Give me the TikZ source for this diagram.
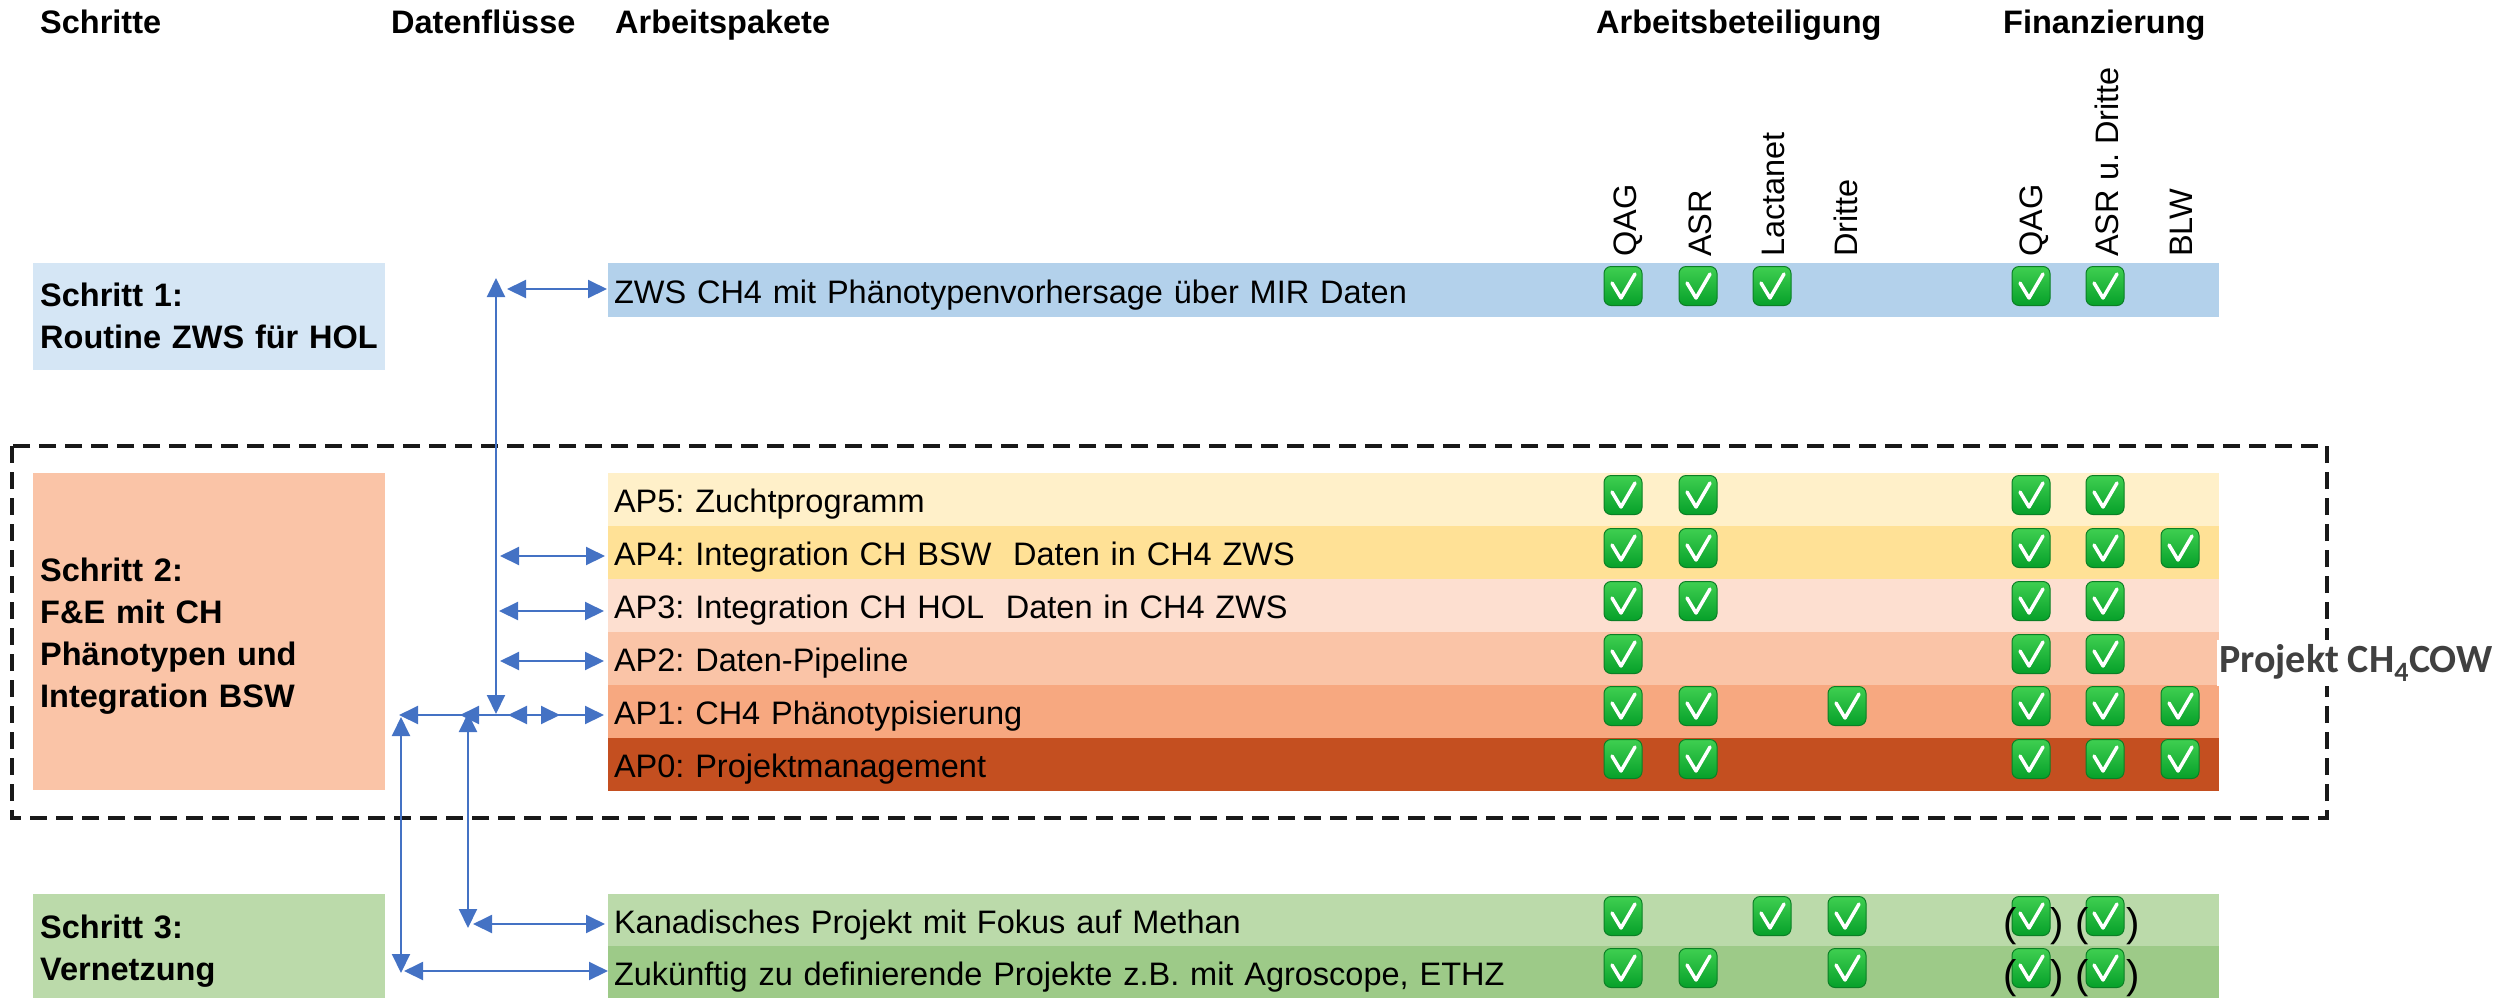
\documentclass[tikz,border=0pt]{standalone}
\usepackage{fontspec}
\setmainfont{Liberation Sans}
\newfontfamily\calibri{Carlito}
\usetikzlibrary{arrows.meta}
\frenchspacing
\definecolor{ablue}{HTML}{4472C4}
\definecolor{sonecol}{HTML}{D5E6F5}
\definecolor{ronecol}{HTML}{B3D1EB}
\definecolor{apfivecol}{HTML}{FFF0C9}
\definecolor{apfourcol}{HTML}{FFE196}
\definecolor{apthreecol}{HTML}{FDDFD0}
\definecolor{aptwocol}{HTML}{FAC4A7}
\definecolor{aponecol}{HTML}{F7A880}
\definecolor{apzerocol}{HTML}{C44F20}
\definecolor{kcol}{HTML}{BBDAAA}
\definecolor{zcol}{HTML}{9DCA88}
\definecolor{chktop}{HTML}{3FCF50}
\definecolor{chkbot}{HTML}{06A02A}
\definecolor{chkborder}{HTML}{0B7F25}
\definecolor{projgray}{HTML}{404040}
\newcommand\bodyfont{\frenchspacing\fontsize{32.5}{39}\selectfont}
\newcommand\hdrfont{\bfseries\fontsize{32.5}{39}\selectfont}
\newcommand\stepfont{\frenchspacing\bfseries\fontsize{32.5}{42}\selectfont}
\newcommand\ckm[3]{%
  \node[chkbox] (#1) at (#2,#3) {};
  \draw[chkline] ([shift={(-11,-3)}]#1.center) -- ([shift={(-2,12)}]#1.center) -- ([shift={(12,-12)}]#1.center);}
\begin{document}
\begin{tikzpicture}[x=1pt,y=-1pt,
  hdr/.style={font=\hdrfont, inner sep=0pt, anchor=base west},
  collab/.style={font=\bodyfont, inner sep=0pt, rotate=90, anchor=base west},
  rowbox/.style={anchor=north west, minimum height=53pt, text width=1599pt, inner xsep=6pt, inner ysep=0pt, align=left, font=\bodyfont, text height=26pt, text depth=0pt, outer sep=0pt},
  stepbox/.style={anchor=north west, minimum width=352pt, inner sep=0pt, outer sep=0pt},
  steptext/.style={anchor=base west, inner sep=0pt, text width=345pt, align=left, font=\stepfont},
  chkbox/.style={draw=chkborder, line width=1pt, rounded corners=7pt, minimum width=38pt, minimum height=39pt, inner sep=0pt, top color=chktop, bottom color=chkbot},
  chkline/.style={draw=white, line width=3.5pt, line cap=round, line join=round},
  paren/.style={font=\fontsize{40}{48}\selectfont, inner sep=0pt},
  dashbox/.style={draw=black!90, line width=3.2pt, dash pattern=on 17pt off 9pt},
  flow/.style={draw=ablue, line width=2pt, >={Triangle[length=19pt,width=18pt]}},
  proj/.style={fill=white, inner xsep=2pt, inner ysep=4pt, font=\calibri\bfseries\fontsize{40}{48}\selectfont, text=projgray, anchor=west}
]
\useasboundingbox (0,0) rectangle (2514,997);

% headers
\node[hdr] (h1) at (40,33) {Schritte};
\node[hdr] (h2) at (391,33) {Datenflüsse};
\node[hdr] (h3) at (615,33) {Arbeitspakete};
\node[hdr] (h4) at (1596,33) {Arbeitsbeteiligung};
\node[hdr] (h5) at (2003,33) {Finanzierung};

% column labels
\node[collab] (ca) at (1636,257) {QAG};
\node[collab] (cb) at (1711,257) {ASR};
\node[collab] (cc) at (1784,257) {Lactanet};
\node[collab] (cd) at (1857,257) {Dritte};
\node[collab] (ce) at (2042,257) {QAG};
\node[collab] (cf) at (2118,257) {ASR u. Dritte};
\node[collab] (cg) at (2192,257) {BLW};

% dashed project frame
\draw[dashbox] (12,446) rectangle (2327,818);

% step boxes
\node[stepbox, fill=sonecol, minimum height=107pt] (s1) at (33,263) {};
\node[steptext] (s1t) at (40,306) {Schritt 1:\\Routine ZWS für HOL};
\node[stepbox, fill=aptwocol, minimum height=317pt] (s2) at (33,473) {};
\node[steptext] (s2t) at (40,581) {Schritt 2:\\F\&E mit CH\\Phänotypen und\\Integration BSW};
\node[stepbox, fill=kcol, minimum height=105pt] (s3) at (33,894) {};
\node[steptext] (s3t) at (40,938) {Schritt 3:\\Vernetzung};

% work package rows
\node[rowbox, fill=ronecol, minimum height=54pt] (r1) at (608,263) {ZWS CH4 mit Phänotypenvorhersage über MIR Daten};
\node[rowbox, fill=apfivecol] (ap5) at (608,473) {AP5: Zuchtprogramm};
\node[rowbox, fill=apfourcol] (ap4) at (608,526) {AP4: Integration CH BSW\ \ Daten in CH4 ZWS};
\node[rowbox, fill=apthreecol] (ap3) at (608,579) {AP3: Integration CH HOL\ \ Daten in CH4 ZWS};
\node[rowbox, fill=aptwocol] (ap2) at (608,632) {AP2: Daten-Pipeline};
\node[rowbox, fill=aponecol] (ap1) at (608,685) {AP1: CH4 Phänotypisierung};
\node[rowbox, fill=apzerocol] (ap0) at (608,738) {AP0: Projektmanagement};
\node[rowbox, fill=kcol, minimum height=52pt] (rk) at (608,894) {Kanadisches Projekt mit Fokus auf Methan};
\node[rowbox, fill=zcol] (rz) at (608,946) {Zukünftig zu definierende Projekte z.B. mit Agroscope, ETHZ};

% project label
\node[proj] (pl) at (2217,663) {Projekt CH\textsubscript{4}COW};

% checks: columns A=1623 B=1698 C=1772 D=1847 E=2031 F=2105 G=2180
\ckm{k1a}{1623}{286}\ckm{k1b}{1698}{286}\ckm{k1c}{1772}{286}\ckm{k1e}{2031}{286}\ckm{k1f}{2105}{286}
\ckm{k5a}{1623}{495}\ckm{k5b}{1698}{495}\ckm{k5e}{2031}{495}\ckm{k5f}{2105}{495}
\ckm{k4a}{1623}{548}\ckm{k4b}{1698}{548}\ckm{k4e}{2031}{548}\ckm{k4f}{2105}{548}\ckm{k4g}{2180}{548}
\ckm{k3a}{1623}{601}\ckm{k3b}{1698}{601}\ckm{k3e}{2031}{601}\ckm{k3f}{2105}{601}
\ckm{k2a}{1623}{654}\ckm{k2e}{2031}{654}\ckm{k2f}{2105}{654}
\ckm{kxa}{1623}{706}\ckm{kxb}{1698}{706}\ckm{kxd}{1847}{706}\ckm{kxe}{2031}{706}\ckm{kxf}{2105}{706}\ckm{kxg}{2180}{706}
\ckm{k0a}{1623}{759}\ckm{k0b}{1698}{759}\ckm{k0e}{2031}{759}\ckm{k0f}{2105}{759}\ckm{k0g}{2180}{759}
\ckm{kka}{1623}{916}\ckm{kkc}{1772}{916}\ckm{kkd}{1847}{916}\ckm{kke}{2031}{916}\ckm{kkf}{2105}{916}
\ckm{kza}{1623}{968}\ckm{kzb}{1698}{968}\ckm{kzd}{1847}{968}\ckm{kze}{2031}{968}\ckm{kzf}{2105}{968}

% parentheses
\node[paren, anchor=base east] (pk1) at (2017,936) {(};
\node[paren, anchor=base west] (pk2) at (2050,936) {)};
\node[paren, anchor=base east] (pk3) at (2089,936) {(};
\node[paren, anchor=base west] (pk4) at (2126,936) {)};
\node[paren, anchor=base east] (pz1) at (2017,988) {(};
\node[paren, anchor=base west] (pz2) at (2050,988) {)};
\node[paren, anchor=base east] (pz3) at (2089,988) {(};
\node[paren, anchor=base west] (pz4) at (2126,988) {)};

% data flow coordinates
\coordinate (vTop) at (496,278);
\coordinate (vBot) at (496,714);
\coordinate (s1L) at (507,289);
\coordinate (s1R) at (607,289);
\coordinate (a4L) at (500,556);
\coordinate (a4R) at (605,556);
\coordinate (a3L) at (499,611);
\coordinate (a3R) at (604,611);
\coordinate (a2L) at (500,661);
\coordinate (a2R) at (604,661);
\coordinate (a1L) at (508,715);
\coordinate (a1R) at (604,715);
\coordinate (m1L) at (460,715);
\coordinate (m1R) at (560,715);
\coordinate (jK) at (468,715);
\coordinate (jZ) at (399,715);
\coordinate (kTop) at (468,713);
\coordinate (kBot) at (468,928);
\coordinate (kL) at (473,924);
\coordinate (kR) at (605,924);
\coordinate (zTop) at (401,717);
\coordinate (zBot) at (401,973);
\coordinate (zL) at (404,971);
\coordinate (zR) at (608,971);

\draw[flow,<->] (vTop) -- (vBot);
\draw[flow,<->] (s1L) -- (s1R);
\draw[flow,<->] (a4L) -- (a4R);
\draw[flow,<->] (a3L) -- (a3R);
\draw[flow,<->] (a2L) -- (a2R);
\draw[flow,<->] (a1L) -- (a1R);
\draw[flow,<->] (m1L) -- (m1R);
\draw[flow,->] (jK) -- (jZ);
\draw[flow,<->] (kTop) -- (kBot);
\draw[flow,<->] (kL) -- (kR);
\draw[flow,<->] (zTop) -- (zBot);
\draw[flow,<->] (zL) -- (zR);
\end{tikzpicture}
\end{document}
